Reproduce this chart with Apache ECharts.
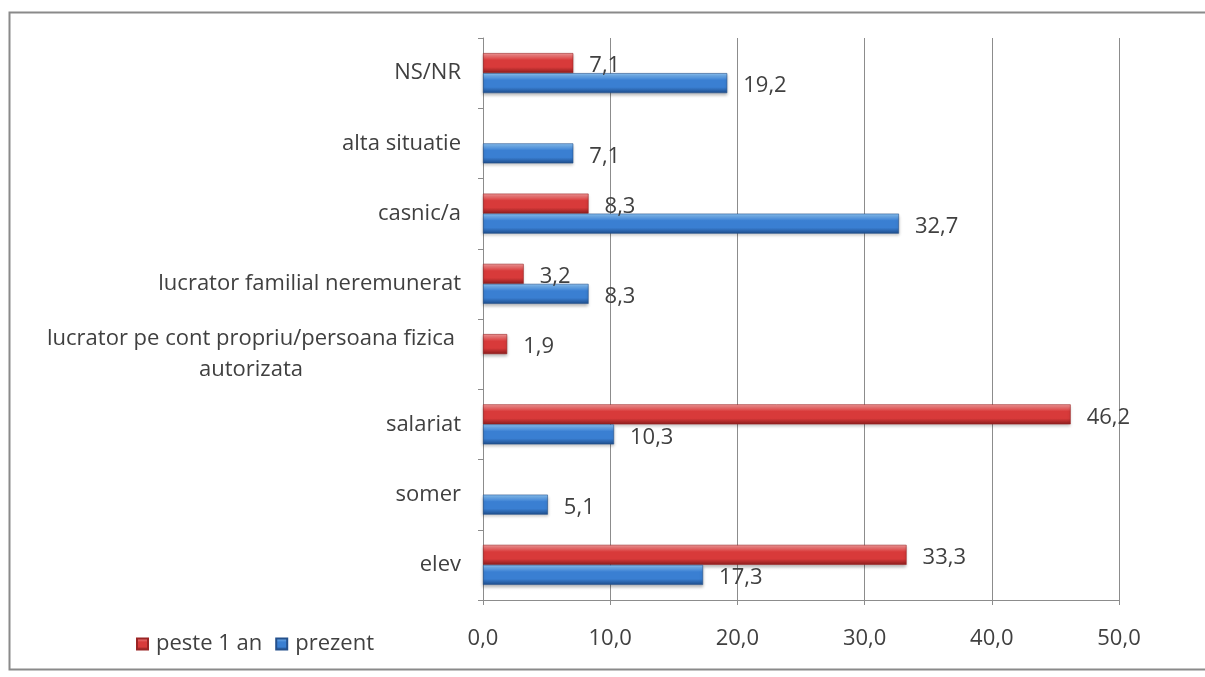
<!DOCTYPE html>
<html>
<head>
<meta charset="utf-8">
<script src="https://cdn.jsdelivr.net/npm/echarts@6/dist/echarts.min.js"></script>
<style>
html,body{margin:0;padding:0;background:#fff;}
#chart{width:1205px;height:677px;}
</style>
</head>
<body>
<div id="chart"></div>
<script>
var categories = ['elev', 'somer', 'salariat', 'lucrator pe cont propriu/persoana fizica autorizata', 'lucrator familial neremunerat', 'casnic/a', 'alta situatie', 'NS/NR'];
var pesteValues = [33.3, null, 46.2, 1.9, 3.2, 8.3, null, 7.1];
var prezentValues = [17.3, 5.1, 10.3, null, 8.3, 32.7, 7.1, 19.2];
var seriesNames = ['peste 1 an', 'prezent'];

var FONT = 'Open Sans';
var FS = 22;
var TXT = '#404040';

function grad(light, mid, dark) {
  return new echarts.graphic.LinearGradient(0, 0, 0, 1, [
    {offset: 0, color: light},
    {offset: 0.35, color: mid},
    {offset: 0.7, color: mid},
    {offset: 1, color: dark}
  ]);
}

function fmt(v) { return v.toFixed(1).replace('.', ','); }

var chart = echarts.init(document.getElementById('chart'));
var labelCfg = {
  show: true, position: 'right', distance: 16, offset: [0, 3],
  color: TXT, fontFamily: FONT, fontSize: FS,
  formatter: function (p) { return fmt(p.value); }
};

chart.setOption({
  animation: false,
  backgroundColor: '#fff',
  graphic: [{
    type: 'rect', shape: {x: 9.5, y: 12.5, width: 1200, height: 657},
    style: {fill: 'none', stroke: '#8a8a8a', lineWidth: 2}, z: -1
  }],
  grid: {left: 483, right: 86, top: 38, bottom: 77, containLabel: false},
  legend: {
    data: seriesNames, left: 131, top: 628, itemWidth: 11, itemHeight: 11, itemGap: 13,
    icon: 'rect',
    textStyle: {color: TXT, fontFamily: FONT, fontSize: FS, padding: [0, 0, 0, 3]}
  },
  xAxis: {
    type: 'value', min: 0, max: 50, interval: 10,
    axisLine: {show: true, lineStyle: {color: '#8c8c8c'}},
    axisTick: {show: true, length: 5, lineStyle: {color: '#8c8c8c'}},
    splitLine: {show: true, lineStyle: {color: '#8c8c8c'}},
    axisLabel: {color: TXT, fontFamily: FONT, fontSize: FS, margin: 28, formatter: function (v) { return fmt(v); }}
  },
  yAxis: {
    type: 'category', data: categories,
    axisLine: {show: true, lineStyle: {color: '#8c8c8c'}},
    axisTick: {show: true, length: 5, lineStyle: {color: '#8c8c8c'}},
    axisLabel: {
      color: TXT, fontFamily: FONT, fontSize: FS, margin: 22, lineHeight: 31,
      formatter: function (v) {
        if (v.indexOf('autorizata') >= 0) {
          return '{c|lucrator pe cont propriu/persoana fizica}\n{c|autorizata}';
        }
        return v;
      },
      rich: {c: {width: 420, align: 'center', color: TXT, fontFamily: FONT, fontSize: FS, lineHeight: 31}}
    }
  },
  series: [
    {
      name: seriesNames[0], type: 'bar', data: pesteValues,
      barGap: '0%', barCategoryGap: '43%',
      itemStyle: {color: grad('#f59a9a', '#d83a3a', '#8a1c1c'), borderColor: '#9a2424', borderWidth: 0.6, shadowColor: 'rgba(0,0,0,0.25)', shadowBlur: 3, shadowOffsetY: 2},
      label: labelCfg
    },
    {
      name: seriesNames[1], type: 'bar', data: prezentValues,
      barGap: '0%', barCategoryGap: '43%',
      itemStyle: {color: grad('#8cc4f5', '#3a7fd2', '#1d4c8a'), borderColor: '#24508c', borderWidth: 0.6, shadowColor: 'rgba(0,0,0,0.25)', shadowBlur: 3, shadowOffsetY: 2},
      label: labelCfg
    }
  ]
});
</script>
</body>
</html>
